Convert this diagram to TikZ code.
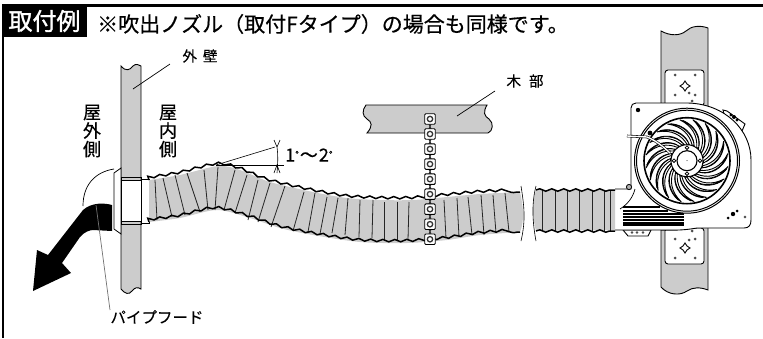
\documentclass[tikz,border=0pt]{standalone}
\usepackage{fontspec}
\setmainfont{Noto Sans CJK JP}
\usetikzlibrary{decorations.pathmorphing}
\definecolor{partgray}{HTML}{CCCCCC}
\tikzset{
  partbody/.style={draw=black, fill=partgray, line width=0.9pt},
  hoseedge/.style={draw=black, line width=1.5pt, decorate, decoration={snake, amplitude=1.2pt, segment length=12pt}},
  hoserib/.style={draw=black!85, line width=0.8pt},
  leaderline/.style={draw=black, line width=0.7pt},
  notelabel/.style={inner sep=0pt, font=\fontsize{14.5}{16}\selectfont\addfontfeature{FakeBold=0.3}},
  sidelabel/.style={inner sep=0pt, align=center, font=\fontsize{18}{18.5}\selectfont\addfontfeature{FakeBold=0.4}},
  chainlink/.style={draw=black, fill=white, line width=0.9pt, rounded corners=1pt, minimum size=10.5pt, inner sep=0pt},
  bladeshape/.style={draw=black, fill=white, line width=0.9pt},
  platebody/.style={draw=black, fill=white, line width=0.9pt, rounded corners=3pt},
  platedot/.style={fill=black!70, draw=none}
}
\begin{document}
\begin{tikzpicture}[x=1pt, y=-1pt]
        \useasboundingbox (0,0) rectangle (763,338);

        % Frame and title
        \draw[line width=3pt] (2,5) -- (763,5);
        \draw[line width=2pt] (2.5,5) -- (2.5,338);
        \node[fill=black, text=white, minimum width=85pt, minimum height=32pt, inner sep=0pt, font=\fontsize{24}{26}\selectfont\addfontfeature{FakeBold=1.5}] (title_tag) at (44.5,21) {取付例};
        \node[anchor=west, inner sep=0pt, font=\fontsize{21}{24}\selectfont\addfontfeature{FakeBold=0.6}] (title_note) at (97,24) {※吹出ノズル（取付Fタイプ）の場合も同様です。};

        % Outer wall
        \draw[partbody] (121,66) .. controls (126,72) and (130,70) .. (133,66) .. controls (136,63) and (139,65) .. (141,66) -- (141,289) .. controls (138,287) and (135,287) .. (132,291) .. controls (129,295) and (125,294) .. (121,289) -- cycle;

        % Hood
        \draw[line width=0.7pt] (114,169) .. controls (95,172) and (83,185) .. (83,206);
        \draw[line width=0.8pt, fill=white] (121,168) -- (114,173) -- (114,229) -- (121,234) -- cycle;
        \draw[line width=0.7pt] (121,177) rectangle (141,224);
        \draw[fill=white, line width=0.7pt] (121,180) rectangle (141,221);
        \draw[fill=white, line width=0.7pt] (141,179) rectangle (149,223);

        % Air flow
        \fill[black] (112,205) .. controls (105,203) and (92,202) .. (83,210) -- (48,255) -- (37,250) -- (33,291) -- (71,273) -- (62,263) -- (80,237) .. controls (84,232) and (90,230) .. (93,230) -- (112,231) -- cycle;

        % Hose, wall side
        \fill[partgray] plot[smooth] coordinates {(149,180) (180,175) (218,166) (240,170) (270,182) (313,192) (347,198) (380,200) (413,200) (447,197) (480,194) (520,192)}
          .. controls (523,205) and (525,220) .. (520,232)
          -- plot[smooth] coordinates {(520,232) (480,235) (447,240) (407,243) (360,242) (313,235) (280,228) (250,218) (217,210) (180,218) (149,222)} -- cycle;
        \foreach \tx/\ty/\bx/\by in {155/180/157/220, 163/178/172/217, 175/175/185/215, 187/173/200/212, 204/170/208/210, 218/167/215/210, 235/170/224/210, 247/175/235/213, 258/180/248/220, 270/183/258/222, 285/186/271/227, 304/192/293/231, 315/193/308/232, 327/197/320/234, 338/198/332/233, 348/198/345/235, 360/200/359/237, 373/200/372/238, 384/202/384/240, 397/202/397/240, 409/202/408/240, 444/200/446/238, 457/198/459/237, 468/197/472/235, 481/195/484/235, 493/195/496/233, 505/193/509/232}
          \draw[hoserib] (\tx,\ty) -- (\bx,\by);
        \draw[hoseedge] plot[smooth] coordinates {(149,180) (180,175) (218,166) (240,170) (270,182) (313,192) (347,198) (380,200) (413,200) (447,197) (480,194) (520,192)};
        \draw[hoseedge] plot[smooth] coordinates {(149,222) (180,218) (217,210) (250,218) (280,228) (313,235) (360,242) (407,243) (447,240) (480,235) (520,232)};
        \draw[line width=0.6pt] (521,186) .. controls (524,205) and (526,220) .. (521,241);

        % Wooden beam
        \draw[partbody] (366,105) -- (487,105) .. controls (483,112) and (484,116) .. (489,119) .. controls (494,123) and (493,131) .. (488,133) -- (367,133) .. controls (373,126) and (372,122) .. (367,119) .. controls (362,116) and (362,110) .. (366,105) -- cycle;

        % Hanging chain
        \foreach \i in {1,...,8}
          \draw[line width=1.1pt, black!80] (427,{119+15.03*(\i-1)}) -- (433,{134+15.03*(\i-1)}) (433,{119+15.03*(\i-1)}) -- (427,{134+15.03*(\i-1)});
        \foreach \i in {1,...,9}
          \node[chainlink] (link\i) at (430,{119+15.03*(\i-1)}) {};
        \foreach \i in {1,...,9}
          \draw[black!80, line width=1.3pt, fill=white] (link\i.center) circle[radius=2.7pt];

        % Vertical beam
        \draw[partbody] (661,31) .. controls (670,36) and (680,36) .. (686,31) .. controls (691,26) and (700,25) .. (708,28) -- (708,290) .. controls (700,287) and (693,287) .. (687,291) .. controls (680,296) and (668,295) .. (661,287) -- cycle;
        \node[platebody, minimum width=39pt, minimum height=36pt, inner sep=0pt] (plate_up) at (684.5,88) {};
        \node[platebody, minimum width=39pt, minimum height=36pt, inner sep=0pt] (plate_down) at (684.5,246) {};
        \foreach \dx/\dy in {675/75, 695/75, 675/95, 695/95, 689/93, 692/101, 675/239, 695/239, 675/258, 695/258, 689/240, 692/231}
          \fill[platedot] (\dx,\dy) circle[radius=1.5pt];
        \foreach \sy in {86,248}
          \draw[line width=0.9pt, fill=white] (685,\sy-5) -- (687,\sy-2) -- (690,\sy) -- (687,\sy+2) -- (685,\sy+5) -- (683,\sy+2) -- (680,\sy) -- (683,\sy-2) -- cycle;

        % Blower housing
        \draw[fill=white, line width=0.9pt] (623,230) -- (628,236) -- (648,236) -- (651,230) -- cycle;
        \foreach \dx in {632,637,643}
          \fill[black!70] (\dx,232.5) circle[radius=1.3pt];
        \draw[fill=white, line width=0.9pt] (723,110) -- (727,111) -- (745,124) -- (742,131) -- (725,118) -- cycle;
        \draw[fill=white, line width=0.9pt] (722,219) -- (740,201) -- (741,209) -- (727,222) -- cycle;
        \draw[fill=white, line width=0.9pt] (615,189) -- (631,189) -- (631,108) .. controls (631,105) and (633,103) .. (636,103) -- (688,103) .. controls (725,104) and (751,130) .. (751,160) -- (751,220) .. controls (751,225) and (749,228) .. (744,228) -- (697,228) .. controls (680,231) and (670,230) .. (655,230) -- (615,230);
        \fill (734,117) circle[radius=2pt];
        \fill (731,115) circle[radius=1.6pt] (737,120) circle[radius=1.6pt] (733,214) circle[radius=2.2pt] (728,218) circle[radius=1.5pt] (737,211) circle[radius=1.5pt];
        \fill (638,110) circle[radius=2.2pt];
        \draw (745,217) circle[radius=1.2pt];
        \draw[fill=black!30, line width=0.8pt] (629,187) circle[radius=2.6pt];

        % Duct
        \draw[line width=0.7pt] (620,209) .. controls (628,204) and (633,197) .. (635,189);
        \foreach \ly/\lx in {207/660, 211/668, 214/684, 217/684, 220/684, 223/684, 225/684}
          \draw[line width=1.1pt] (623,\ly) -- (\lx,\ly);

        % Fan
        \draw[fill=white, line width=1pt] (687,160.7) circle[radius=52.5pt];
        \draw[line width=1pt] (687,160.7) circle[radius=50.5pt];
        \draw[line width=1.6pt] (687,160.7) circle[radius=43pt];
        \foreach \a in {0,18,...,342} {
          \draw[bladeshape, shift={(687,160.7)}] (\a:16.5) .. controls (\a-12:26) and (\a-26:35) .. (\a-46:41.5) .. controls (\a-26:38) and (\a-4:27) .. (\a+8:16.5) -- cycle;
          \draw[line width=0.8pt, shift={(687,160.7)}] (\a+3:19) .. controls (\a-6:27) and (\a-22:36) .. (\a-42:40.5);
        }
        \draw[line width=1pt, fill=white] (687,160.7) circle[radius=16pt];
        \draw[line width=1.1pt] (687,160.7) circle[radius=10pt];
        \fill (687,160.7) circle[radius=0.5pt];
        \foreach \a in {0,90,180,270}
          \draw[line width=0.8pt, fill=white, shift={(687,160.7)}] (\a:13) circle[radius=1.8pt];

        % Cable
        \draw[line width=2.6pt] (627,136) -- (647,137) .. controls (655,140) and (664,147) .. (670,153);
        \draw[line width=1.4pt, white] (627,136) -- (647,137) .. controls (655,140) and (664,147) .. (670,153);
        \fill (650,133) circle[radius=2.4pt];

        % Hose, blower side
        \fill[partgray] (536,190) -- (615,190) -- (615,230) -- (536,231) .. controls (532,215) and (532,205) .. (536,190);
        \foreach \rx in {542,555,567,579,592,604,610}
          \draw[hoserib] (\rx,190) -- (\rx,231);
        \draw[hoseedge] (536,190) -- (615,190);
        \draw[hoseedge] (536,231) -- (615,231);
        \draw[line width=0.6pt] (536,186) .. controls (531,205) and (533,225) .. (536,241);

        % Labels
        \node[notelabel] (label_wall) at (200,56) {外\hspace{6pt}壁};
        \coordinate (wall_point) at (133,89);
        \draw[leaderline] (170,64) -- (wall_point);
        \node[sidelabel] (label_out) at (92,131) {屋\\外\\側};
        \node[sidelabel] (label_in) at (168,131) {屋\\内\\側};
        \node[notelabel] (label_wood) at (525,81) {木\hspace{8pt}部};
        \coordinate (wood_point) at (457,116);
        \draw[leaderline] (495,91) -- (wood_point);
        \node[notelabel, font=\fontsize{15.5}{18}\selectfont\addfontfeature{FakeBold=0.2}] (label_hood) at (157,317) {パイプフード};
        \coordinate (hood_point) at (96,205);
        \draw[draw=black!55, line width=0.7pt] (110,310) -- (hood_point);

        % Hose angle
        \coordinate (hose_peak) at (216,165);
        \draw[line width=0.6pt] (hose_peak) -- (275,147);
        \draw[line width=0.6pt] (hose_peak) -- (284,165);
        \draw[line width=0.6pt] (274,140) -- (277,147) (280,140) -- (277,147) (277,147) .. controls (278,155) and (278,160) .. (277,173) (274,173) -- (277,165) -- (280,173);
        \node[anchor=west, inner sep=0pt, font=\fontsize{18}{20}\selectfont\addfontfeature{FakeBold=0.3}] (label_angle) at (285,155) {1\raisebox{3pt}{\fontsize{10}{10}\selectfont°}\hspace{1pt}～\hspace{1pt}2\raisebox{3pt}{\fontsize{10}{10}\selectfont°}};

    \end{tikzpicture}
\end{document}
